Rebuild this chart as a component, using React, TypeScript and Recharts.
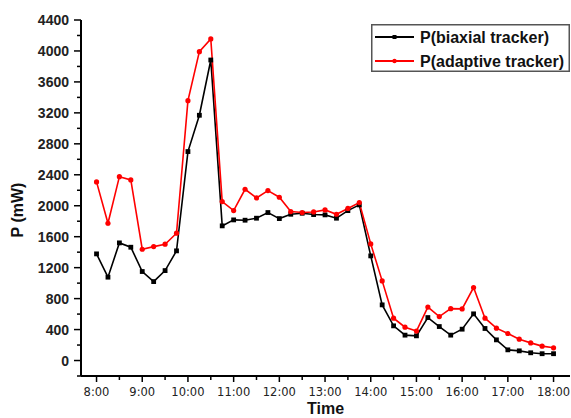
import React from 'react';
import { LineChart, Line, XAxis, YAxis, Legend } from 'recharts';

const times = [8, 8.25, 8.5, 8.75, 9, 9.25, 9.5, 9.75, 10, 10.25, 10.5, 10.75, 11, 11.25, 11.5, 11.75, 12, 12.25, 12.5, 12.75, 13, 13.25, 13.5, 13.75, 14, 14.25, 14.5, 14.75, 15, 15.25, 15.5, 15.75, 16, 16.25, 16.5, 16.75, 17, 17.25, 17.5, 17.75, 18];
const biaxial = [1378, 1077, 1520, 1464, 1150, 1020, 1162, 1417, 2700, 3169, 3883, 1740, 1817, 1813, 1839, 1912, 1834, 1890, 1903, 1886, 1882, 1839, 1937, 2011, 1352, 719, 448, 328, 319, 555, 439, 328, 405, 603, 414, 267, 138, 125, 100, 88, 88];
const adaptive = [2308, 1774, 2376, 2334, 1438, 1472, 1503, 1645, 3358, 3991, 4155, 2054, 1937, 2213, 2101, 2196, 2110, 1925, 1912, 1920, 1946, 1890, 1965, 2041, 1507, 1029, 547, 431, 380, 690, 568, 670, 667, 943, 547, 418, 349, 276, 228, 186, 164];

const xTicks = [8, 8.5, 9, 9.5, 10, 10.5, 11, 11.5, 12, 12.5, 13, 13.5, 14, 14.5, 15, 15.5, 16, 16.5, 17, 17.5, 18];
const yTicks = [-200, 0, 200, 400, 600, 800, 1000, 1200, 1400, 1600, 1800, 2000, 2200, 2400, 2600, 2800, 3000, 3200, 3400, 3600, 3800, 4000, 4200, 4400];

const seriesNames = ['P(biaxial tracker)', 'P(adaptive tracker)'];

const table = times.map((t, i) => ({ t, b: biaxial[i], a: adaptive[i] }));

const XTick = (props: any) => {
  const { x, y, payload } = props;
  const v = payload.value;
  const major = Number.isInteger(v);
  return (
    <g>
      <line x1={x} x2={x} y1={y} y2={y + (major ? 6 : 4)} stroke="#000" strokeWidth={1.5} />
      {major && (
        <text x={x} y={y + 20} textAnchor="middle" fontFamily="DejaVu Sans" fontSize={11.5} fill="#222">
          {`${v}:00`}
        </text>
      )}
    </g>
  );
};

const YTick = (props: any) => {
  const { x, y, payload } = props;
  const v = payload.value;
  const major = v >= 0 && v % 400 === 0;
  return (
    <g>
      <line x1={x} x2={x - (major ? 7 : 4)} y1={y} y2={y} stroke="#000" strokeWidth={1.5} />
      {major && (
        <text x={x - 12} y={y} dy="0.36em" textAnchor="end" fontFamily="Liberation Sans" fontWeight="bold" fontSize={14} fill="#222">
          {v}
        </text>
      )}
    </g>
  );
};

const BlackDot = (props: any) => {
  const { cx, cy, index } = props;
  if (cx == null || cy == null) return <g key={`b${index}`} />;
  return <rect key={`b${index}`} x={cx - 2.4} y={cy - 2.4} width={4.8} height={4.8} fill="#000" />;
};

const RedDot = (props: any) => {
  const { cx, cy, index } = props;
  if (cx == null || cy == null) return <g key={`r${index}`} />;
  return <circle key={`r${index}`} cx={cx} cy={cy} r={2.6} fill="#ff0000" />;
};

const renderLegend = () => (
  <svg width={199} height={48} style={{ display: 'block' }}>
    <rect x={0.75} y={0.75} width={197.5} height={46.5} fill="#fff" stroke="#555" strokeWidth={1.5} />
    <line x1={4} x2={43} y1={13} y2={13} stroke="#000" strokeWidth={1.8} />
    <rect x={21.5} y={11} width={4} height={4} fill="#000" />
    <text x={49} y={13} dy="0.36em" fontFamily="Liberation Sans" fontWeight="bold" fontSize={16} fill="#111">
      {seriesNames[0]}
    </text>
    <line x1={4} x2={43} y1={37} y2={37} stroke="#ff0000" strokeWidth={1.8} />
    <circle cx={23.5} cy={37} r={2.2} fill="#ff0000" />
    <text x={49} y={37} dy="0.36em" fontFamily="Liberation Sans" fontWeight="bold" fontSize={16} fill="#111">
      {seriesNames[1]}
    </text>
  </svg>
);

const YLabel = () => {
  const cx = 17;
  const cy = 210;
  return (
    <text x={cx} y={cy} transform={`rotate(-90, ${cx}, ${cy})`} textAnchor="middle" dy="0.36em" fontFamily="Liberation Sans" fontWeight="bold" fontSize={16} fill="#111">
      P (mW)
    </text>
  );
};

const XLabel = (props: any) => {
  const vb = props.viewBox || { x: 81, y: 376, width: 489, height: 42 };
  return (
    <text x={vb.x + vb.width / 2} y={vb.y + 32} textAnchor="middle" dy="0.36em" fontFamily="Liberation Sans" fontWeight="bold" fontSize={16} fill="#111">
      Time
    </text>
  );
};

export default function App() {
  return (
    <div style={{ position: 'absolute', left: 0, top: 0, background: '#fff' }}>
      <LineChart width={571} height={418} data={table} margin={{ top: 20, right: 1, bottom: 0, left: 0 }}>
        <XAxis
          type="number"
          dataKey="t"
          domain={[7.66, 18.36]}
          ticks={xTicks}
          interval={0}
          allowDataOverflow
          tick={<XTick />}
          tickSize={0}
          tickMargin={0}
          tickLine={false}
          axisLine={{ stroke: '#000', strokeWidth: 2 }}
          height={42}
          label={<XLabel />}
        />
        <YAxis
          type="number"
          domain={[-200, 4400]}
          ticks={yTicks}
          interval={0}
          allowDataOverflow
          tick={<YTick />}
          tickSize={0}
          tickMargin={0}
          tickLine={false}
          axisLine={{ stroke: '#000', strokeWidth: 2 }}
          width={81}
          label={<YLabel />}
        />
        <Legend
          layout="vertical"
          verticalAlign="middle"
          align="center"
          content={renderLegend}
          wrapperStyle={{ position: 'absolute', left: 371, top: 24, width: 199, height: 48 }}
        />
        <Line
          type="linear"
          dataKey="b"
          name={seriesNames[0]}
          stroke="#000"
          strokeWidth={1.6}
          dot={BlackDot}
          activeDot={false}
          isAnimationActive={false}
        />
        <Line
          type="linear"
          dataKey="a"
          name={seriesNames[1]}
          stroke="#ff0000"
          strokeWidth={1.6}
          dot={RedDot}
          activeDot={false}
          isAnimationActive={false}
        />
      </LineChart>
    </div>
  );
}
